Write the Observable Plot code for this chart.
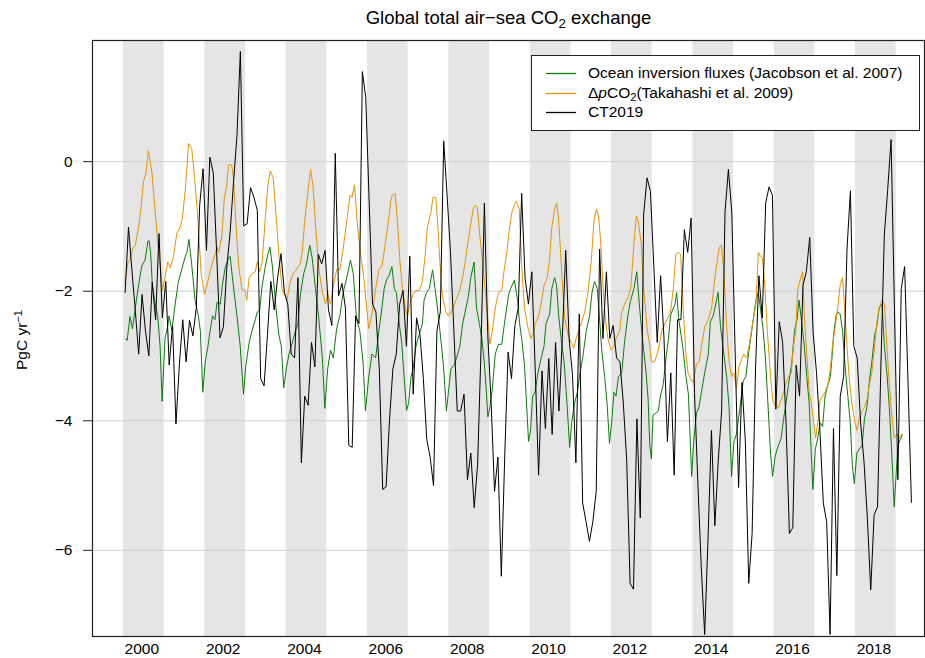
<!DOCTYPE html>
<html><head><meta charset="utf-8">
<script src="https://cdn.jsdelivr.net/npm/d3@7"></script>
<script src="https://cdn.jsdelivr.net/npm/@observablehq/plot@0.6"></script>
<style>
body{margin:0;background:#fff;font-family:"Liberation Sans",Arial,Helvetica,sans-serif;color:#000;}
#wrap{position:relative;width:925px;height:658px;overflow:hidden;}
#chart{position:absolute;left:0;top:0;}
#title{position:absolute;left:92px;width:833px;top:6px;text-align:center;font-size:18.5px;line-height:24px;white-space:nowrap;}
sub{font-size:0.72em;vertical-align:-0.28em;line-height:0;}
sup{font-size:0.72em;vertical-align:0.45em;line-height:0;}
#ylab{position:absolute;left:22px;top:340px;transform:translate(-50%,-50%) rotate(-90deg);font-size:15.5px;white-space:nowrap;line-height:20px;}
#legend{position:absolute;left:531px;top:55px;width:387px;height:74px;border:1px solid #222;background:#fff;font-size:15.5px;}
.row{position:absolute;left:0;width:100%;height:20px;line-height:20px;}
.sw{position:absolute;left:14px;top:9px;width:30px;height:3px;}
.lt{position:absolute;left:56px;top:0;white-space:nowrap;}
</style>
</head><body>
<div id="wrap">
  <div id="chart"></div>
  <div id="title">Global total air&#8722;sea CO<sub>2</sub> exchange</div>
  <div id="ylab">PgC yr<sup>&#8722;1</sup></div>
  <div id="legend"></div>
</div>
<script>
// Grey bands (each starts a year) and axis ticks
const bandYears = [2000, 2002, 2004, 2006, 2008, 2010, 2012, 2014, 2016, 2018];
const xTickYears = [2000, 2002, 2004, 2006, 2008, 2010, 2012, 2014, 2016, 2018];
const yTicks = [0, -2, -4, -6];

// Ocean inversion fluxes (Jacobson et al. 2007): [decimal year, PgC/yr]
const oceanInversion = [[2000.06,-2.73],[2000.09,-2.76],[2000.16,-2.39],[2000.22,-2.58],[2000.29,-2.26],[2000.37,-1.91],[2000.45,-1.61],[2000.53,-1.52],[2000.60,-1.23],[2000.63,-1.22],[2000.67,-1.43],[2000.71,-1.91],[2000.78,-2.20],[2000.84,-2.38],[2000.90,-2.85],[2000.95,-3.70],[2001.02,-2.73],[2001.09,-2.53],[2001.12,-2.38],[2001.19,-2.61],[2001.27,-2.20],[2001.35,-1.85],[2001.43,-1.67],[2001.52,-1.46],[2001.56,-1.40],[2001.61,-1.20],[2001.68,-1.61],[2001.76,-2.14],[2001.84,-2.38],[2001.89,-2.61],[2001.95,-3.56],[2002.01,-3.09],[2002.07,-2.88],[2002.13,-2.61],[2002.19,-2.38],[2002.25,-2.44],[2002.30,-2.17],[2002.38,-2.20],[2002.43,-1.91],[2002.50,-1.64],[2002.58,-1.49],[2002.62,-1.46],[2002.70,-1.91],[2002.79,-2.38],[2002.87,-2.85],[2002.95,-3.59],[2003.01,-3.14],[2003.09,-2.79],[2003.16,-2.61],[2003.24,-2.44],[2003.29,-2.32],[2003.35,-2.29],[2003.41,-1.91],[2003.49,-1.61],[2003.55,-1.43],[2003.60,-1.32],[2003.66,-1.61],[2003.74,-2.20],[2003.82,-2.67],[2003.88,-2.85],[2003.94,-3.49],[2004.01,-3.17],[2004.07,-2.97],[2004.15,-2.79],[2004.23,-2.61],[2004.29,-2.50],[2004.35,-2.05],[2004.43,-1.73],[2004.50,-1.58],[2004.58,-1.29],[2004.64,-1.49],[2004.72,-1.96],[2004.80,-2.41],[2004.89,-3.03],[2004.95,-3.81],[2005.02,-3.20],[2005.09,-2.91],[2005.16,-3.03],[2005.24,-2.58],[2005.32,-2.38],[2005.40,-2.02],[2005.48,-1.82],[2005.58,-1.52],[2005.65,-1.73],[2005.73,-2.44],[2005.81,-2.61],[2005.89,-3.09],[2005.95,-3.85],[2006.03,-3.32],[2006.11,-2.97],[2006.20,-3.03],[2006.28,-2.61],[2006.36,-2.23],[2006.41,-1.96],[2006.47,-1.82],[2006.53,-1.76],[2006.60,-1.62],[2006.66,-1.96],[2006.71,-2.02],[2006.78,-2.50],[2006.84,-2.79],[2006.90,-3.32],[2006.96,-3.84],[2007.01,-3.73],[2007.07,-3.32],[2007.12,-3.20],[2007.19,-2.85],[2007.27,-2.67],[2007.35,-2.50],[2007.39,-2.14],[2007.45,-2.02],[2007.52,-1.96],[2007.60,-1.67],[2007.66,-1.96],[2007.72,-2.26],[2007.78,-2.61],[2007.84,-2.97],[2007.88,-3.26],[2007.94,-3.85],[2007.99,-3.56],[2008.05,-3.20],[2008.13,-3.14],[2008.19,-3.03],[2008.27,-2.85],[2008.34,-2.50],[2008.42,-2.26],[2008.48,-2.08],[2008.54,-1.79],[2008.58,-1.67],[2008.62,-1.55],[2008.68,-2.26],[2008.75,-2.50],[2008.81,-2.73],[2008.87,-3.09],[2008.91,-3.44],[2008.96,-3.94],[2009.01,-3.79],[2009.07,-3.50],[2009.14,-2.97],[2009.22,-2.82],[2009.30,-2.82],[2009.38,-2.44],[2009.47,-2.05],[2009.52,-1.96],[2009.61,-1.83],[2009.69,-2.14],[2009.74,-2.50],[2009.79,-2.73],[2009.86,-3.14],[2009.93,-3.97],[2009.96,-4.32],[2010.01,-4.15],[2010.06,-3.62],[2010.12,-3.56],[2010.19,-3.26],[2010.27,-3.03],[2010.34,-2.85],[2010.39,-2.50],[2010.48,-2.35],[2010.53,-1.96],[2010.60,-1.79],[2010.65,-1.91],[2010.70,-2.38],[2010.76,-2.73],[2010.84,-3.14],[2010.91,-3.79],[2010.97,-4.41],[2011.02,-4.03],[2011.09,-3.73],[2011.16,-3.56],[2011.21,-3.32],[2011.29,-3.03],[2011.38,-2.61],[2011.46,-2.38],[2011.52,-2.02],[2011.58,-1.85],[2011.65,-1.96],[2011.70,-2.38],[2011.76,-2.91],[2011.83,-3.32],[2011.89,-3.73],[2011.95,-4.35],[2012.01,-3.97],[2012.06,-3.56],[2012.11,-3.62],[2012.17,-3.32],[2012.25,-3.26],[2012.32,-2.79],[2012.40,-2.38],[2012.47,-2.14],[2012.55,-1.96],[2012.62,-1.70],[2012.69,-2.26],[2012.77,-2.79],[2012.85,-3.26],[2012.90,-3.68],[2012.94,-4.38],[2012.98,-4.59],[2013.02,-3.91],[2013.09,-3.88],[2013.15,-3.85],[2013.20,-3.62],[2013.27,-3.44],[2013.34,-3.03],[2013.40,-2.73],[2013.45,-2.38],[2013.50,-2.29],[2013.56,-2.20],[2013.60,-2.02],[2013.66,-2.47],[2013.75,-2.85],[2013.83,-3.32],[2013.89,-3.59],[2013.97,-4.86],[2014.02,-4.32],[2014.09,-3.88],[2014.15,-3.79],[2014.21,-3.56],[2014.29,-3.26],[2014.38,-2.97],[2014.43,-2.47],[2014.50,-2.38],[2014.58,-2.14],[2014.62,-2.02],[2014.68,-2.55],[2014.75,-2.91],[2014.83,-3.32],[2014.89,-3.79],[2014.95,-4.86],[2015.01,-4.32],[2015.07,-4.21],[2015.16,-3.79],[2015.24,-3.38],[2015.30,-3.32],[2015.38,-2.91],[2015.47,-2.50],[2015.55,-2.14],[2015.61,-2.02],[2015.66,-2.26],[2015.73,-2.61],[2015.79,-3.09],[2015.85,-3.79],[2015.91,-4.50],[2015.96,-4.86],[2016.02,-4.56],[2016.07,-4.44],[2016.17,-4.27],[2016.23,-3.97],[2016.29,-3.73],[2016.35,-3.44],[2016.43,-3.12],[2016.50,-2.61],[2016.56,-2.44],[2016.61,-2.14],[2016.68,-2.50],[2016.74,-2.85],[2016.80,-3.32],[2016.86,-3.73],[2016.91,-4.50],[2016.95,-5.06],[2017.01,-4.44],[2017.07,-4.27],[2017.13,-4.03],[2017.19,-4.09],[2017.25,-3.62],[2017.32,-3.44],[2017.38,-3.32],[2017.42,-3.03],[2017.46,-2.67],[2017.52,-2.38],[2017.56,-2.32],[2017.62,-2.35],[2017.68,-2.61],[2017.74,-3.14],[2017.81,-3.62],[2017.87,-4.03],[2017.92,-4.68],[2017.97,-4.97],[2018.03,-4.50],[2018.09,-4.44],[2018.16,-4.38],[2018.22,-3.97],[2018.28,-3.79],[2018.34,-3.38],[2018.40,-3.09],[2018.47,-2.67],[2018.52,-2.55],[2018.58,-2.26],[2018.65,-2.20],[2018.71,-2.85],[2018.77,-3.26],[2018.83,-3.79],[2018.89,-4.50],[2018.95,-5.33],[2018.99,-4.91],[2019.04,-4.38],[2019.10,-4.29],[2019.15,-4.21]];

// ΔpCO2 (Takahashi et al. 2009): [decimal year, PgC/yr]
const deltaPCO2 = [[2000.04,-1.85],[2000.11,-1.55],[2000.16,-1.52],[2000.22,-1.35],[2000.29,-1.29],[2000.37,-1.02],[2000.43,-0.73],[2000.49,-0.31],[2000.55,-0.19],[2000.61,0.17],[2000.70,-0.17],[2000.78,-0.78],[2000.86,-1.37],[2000.93,-1.79],[2000.96,-1.99],[2001.02,-1.79],[2001.09,-1.55],[2001.15,-1.64],[2001.23,-1.46],[2001.31,-1.11],[2001.39,-1.02],[2001.45,-0.87],[2001.52,-0.43],[2001.60,0.28],[2001.68,0.19],[2001.75,-0.25],[2001.83,-0.90],[2001.91,-1.73],[2001.99,-2.05],[2002.05,-1.91],[2002.13,-1.70],[2002.21,-1.52],[2002.30,-1.32],[2002.34,-1.40],[2002.42,-1.14],[2002.48,-0.55],[2002.54,-0.37],[2002.58,-0.05],[2002.66,-0.05],[2002.70,-0.22],[2002.76,-0.90],[2002.83,-1.61],[2002.91,-1.96],[2002.99,-1.99],[2003.03,-2.14],[2003.09,-1.79],[2003.16,-1.73],[2003.24,-1.70],[2003.29,-1.55],[2003.35,-1.70],[2003.41,-1.55],[2003.49,-0.84],[2003.55,-0.37],[2003.61,-0.14],[2003.68,-0.25],[2003.74,-0.73],[2003.82,-1.43],[2003.90,-1.96],[2004.02,-2.14],[2004.09,-1.88],[2004.17,-1.73],[2004.25,-1.67],[2004.34,-1.58],[2004.39,-1.43],[2004.45,-0.96],[2004.53,-0.49],[2004.60,-0.12],[2004.66,-0.37],[2004.72,-0.96],[2004.80,-1.64],[2004.89,-2.02],[2004.97,-2.20],[2005.02,-2.02],[2005.09,-2.20],[2005.16,-1.91],[2005.24,-1.67],[2005.32,-1.67],[2005.40,-1.35],[2005.48,-0.96],[2005.57,-0.52],[2005.62,-0.55],[2005.68,-0.36],[2005.75,-0.96],[2005.83,-1.43],[2005.91,-1.79],[2005.98,-2.26],[2006.03,-2.58],[2006.12,-2.32],[2006.20,-1.96],[2006.28,-1.67],[2006.36,-1.60],[2006.44,-1.25],[2006.52,-0.90],[2006.57,-0.61],[2006.61,-0.52],[2006.68,-0.49],[2006.74,-0.96],[2006.79,-1.49],[2006.86,-1.96],[2006.93,-2.26],[2006.98,-2.38],[2007.04,-2.20],[2007.12,-2.05],[2007.19,-1.99],[2007.27,-1.99],[2007.35,-1.85],[2007.42,-1.43],[2007.47,-1.02],[2007.56,-0.78],[2007.61,-0.55],[2007.68,-0.55],[2007.72,-0.90],[2007.78,-1.55],[2007.84,-2.08],[2007.93,-2.32],[2007.99,-2.38],[2008.05,-2.32],[2008.11,-2.26],[2008.17,-2.14],[2008.25,-2.02],[2008.34,-1.79],[2008.40,-1.55],[2008.48,-1.20],[2008.54,-0.96],[2008.60,-0.73],[2008.65,-0.67],[2008.70,-0.70],[2008.76,-1.14],[2008.83,-1.55],[2008.89,-1.96],[2008.95,-2.38],[2009.01,-2.82],[2009.07,-2.61],[2009.14,-2.26],[2009.22,-2.02],[2009.30,-1.99],[2009.36,-1.67],[2009.42,-1.43],[2009.48,-1.08],[2009.55,-0.78],[2009.61,-0.67],[2009.66,-0.61],[2009.73,-0.73],[2009.79,-1.60],[2009.86,-2.26],[2009.94,-2.55],[2010.01,-2.73],[2010.07,-2.67],[2010.12,-2.50],[2010.19,-2.41],[2010.25,-2.26],[2010.34,-1.91],[2010.42,-1.79],[2010.48,-1.49],[2010.53,-1.02],[2010.60,-0.73],[2010.65,-0.64],[2010.70,-0.90],[2010.76,-1.55],[2010.84,-2.38],[2010.93,-2.67],[2011.01,-2.79],[2011.07,-2.88],[2011.13,-2.73],[2011.19,-2.61],[2011.25,-2.50],[2011.34,-2.32],[2011.42,-2.02],[2011.50,-1.55],[2011.57,-0.90],[2011.63,-0.73],[2011.68,-0.84],[2011.73,-1.20],[2011.79,-1.91],[2011.84,-2.38],[2011.91,-2.73],[2011.99,-2.91],[2012.06,-2.85],[2012.11,-2.73],[2012.20,-2.61],[2012.25,-2.32],[2012.34,-2.17],[2012.42,-2.08],[2012.48,-1.91],[2012.55,-1.26],[2012.61,-0.84],[2012.66,-0.93],[2012.73,-1.26],[2012.79,-1.96],[2012.88,-2.61],[2012.93,-2.79],[2012.98,-3.09],[2013.06,-3.09],[2013.15,-2.91],[2013.23,-2.61],[2013.31,-2.50],[2013.39,-2.41],[2013.45,-2.32],[2013.52,-1.96],[2013.58,-1.43],[2013.64,-1.40],[2013.70,-1.43],[2013.76,-2.26],[2013.83,-2.97],[2013.88,-3.26],[2013.94,-3.35],[2014.01,-3.41],[2014.09,-3.12],[2014.16,-3.09],[2014.21,-2.85],[2014.29,-2.55],[2014.38,-2.44],[2014.46,-2.26],[2014.52,-1.91],[2014.58,-1.61],[2014.65,-1.32],[2014.70,-1.29],[2014.76,-1.67],[2014.83,-2.55],[2014.89,-3.09],[2014.95,-3.32],[2015.01,-3.26],[2015.07,-3.50],[2015.14,-3.14],[2015.20,-3.05],[2015.25,-2.97],[2015.32,-3.03],[2015.38,-2.85],[2015.47,-2.50],[2015.55,-2.20],[2015.61,-1.40],[2015.66,-1.46],[2015.71,-1.49],[2015.77,-1.91],[2015.83,-2.61],[2015.89,-3.14],[2015.96,-3.68],[2016.02,-3.76],[2016.10,-3.80],[2016.17,-3.68],[2016.23,-3.56],[2016.29,-3.41],[2016.35,-3.32],[2016.42,-3.26],[2016.47,-2.85],[2016.53,-2.61],[2016.58,-1.96],[2016.64,-1.82],[2016.70,-1.70],[2016.74,-2.38],[2016.80,-2.97],[2016.86,-3.56],[2016.91,-3.73],[2016.97,-4.03],[2017.02,-4.27],[2017.07,-4.03],[2017.13,-3.68],[2017.19,-3.62],[2017.25,-3.56],[2017.32,-3.44],[2017.38,-3.20],[2017.43,-2.85],[2017.50,-2.55],[2017.56,-2.26],[2017.62,-1.91],[2017.68,-1.79],[2017.73,-2.26],[2017.79,-2.85],[2017.84,-3.32],[2017.91,-3.73],[2017.97,-3.97],[2018.03,-4.15],[2018.09,-3.97],[2018.16,-3.85],[2018.22,-3.79],[2018.28,-3.68],[2018.34,-3.44],[2018.40,-3.26],[2018.47,-2.85],[2018.52,-2.50],[2018.58,-2.26],[2018.65,-2.14],[2018.71,-2.20],[2018.77,-2.85],[2018.83,-3.44],[2018.89,-3.91],[2018.95,-4.27],[2019.02,-4.21],[2019.07,-4.27],[2019.14,-4.21]];

// CT2019 monthly values (PgC/yr), first month at ct2019Start
const ct2019Start = 2000.04;
const ct2019 = [-2.02,-1.01,-1.67,-2.30,-2.97,-2.05,-2.61,-3.00,-1.86,-2.44,-1.11,-2.41,
-1.85,-3.14,-2.53,-4.05,-3.14,-2.44,-3.09,-2.45,-2.69,-2.26,-0.67,-0.11,
-1.37,0.07,-0.17,-1.40,-2.72,-2.55,-1.64,-1.08,-0.31,0.40,1.70,-0.99,
-0.96,-0.40,-0.55,-0.75,-3.35,-3.46,-2.67,-1.85,-2.29,-1.79,-1.42,-2.02,
-2.20,-2.97,-3.03,-1.79,-4.65,-3.62,-3.76,-2.79,-3.17,-1.43,-1.58,-1.37,
-2.29,-2.53,0.13,-2.07,-1.88,-2.26,-4.38,-4.41,-2.38,-2.50,1.39,0.99,
-0.61,-2.20,-2.32,-3.20,-5.06,-5.02,-4.00,-3.20,-2.97,-2.20,-1.99,-2.85,
-1.46,-3.59,-2.41,-2.67,-3.35,-4.29,-4.56,-5.00,-2.61,-2.32,0.32,-0.52,
-1.40,-2.61,-3.85,-3.85,-3.59,-4.91,-4.50,-5.34,-4.68,-2.91,-0.64,-2.67,
-3.73,-5.09,-4.56,-6.40,-4.56,-2.94,-3.35,-2.53,-2.26,-0.49,-1.79,-2.20,
-1.70,-3.20,-4.84,-3.23,-4.12,-3.04,-4.21,-2.79,-3.85,-2.73,-1.37,-2.73,
-3.29,-4.65,-2.35,-5.27,-5.56,-5.86,-5.56,-5.09,-1.35,-2.73,-1.70,-2.73,
-2.53,-3.03,-3.09,-3.73,-4.62,-6.51,-6.60,-3.97,-5.50,-0.81,-0.25,-0.46,
-1.62,-2.79,-1.76,-2.73,-4.32,-3.26,-4.84,-2.44,-2.44,-1.05,-1.40,-0.87,
-3.56,-4.97,-6.27,-7.30,-5.80,-4.15,-5.62,-4.62,-3.85,-0.78,-0.12,-0.78,
-2.97,-5.03,-3.41,-4.32,-6.51,-5.74,-3.20,-1.76,-2.41,-0.64,-0.39,-0.52,
-3.82,-2.47,-2.79,-4.03,-5.74,-5.65,-3.14,-3.62,-1.91,-1.70,-1.17,-2.64,
-3.26,-4.15,-5.27,-5.56,-7.30,-4.12,-6.39,-3.62,-3.32,-1.35,-0.45,-2.85,
-3.03,-4.03,-4.62,-5.50,-6.61,-5.45,-5.33,-3.14,-1.14,-0.43,0.34,-2.29,
-4.91,-1.96,-1.62,-3.40,-5.26];

const seriesNames = ["Ocean inversion fluxes (Jacobson et al. 2007)", "ΔpCO2(Takahashi et al. 2009)", "CT2019"];
const seriesColors = ["#0b7d0b", "#e69500", "#000000"];

const ctData = ct2019.map((v, i) => [ct2019Start + i / 12, v]);
const xDomain = [1999.238, 2019.695];
const yDomain = [-7.33, 1.87];

const chart = Plot.plot({
  width: 925, height: 658,
  marginTop: 40, marginRight: 1, marginBottom: 22, marginLeft: 92,
  style: {fontFamily: "'Liberation Sans', Arial, Helvetica, sans-serif", fontSize: "15.5px", background: "transparent", color: "#000", overflow: "visible"},
  x: {domain: xDomain},
  y: {domain: yDomain},
  marks: [
    Plot.rect(bandYears, {x1: d => d, x2: d => d + 1, y1: yDomain[0], y2: yDomain[1], fill: "#e5e5e5"}),
    Plot.ruleY(yTicks, {stroke: "#d0d0d0", strokeWidth: 1}),
    Plot.line(oceanInversion, {x: d => d[0], y: d => d[1], stroke: seriesColors[0], strokeWidth: 1}),
    Plot.line(deltaPCO2, {x: d => d[0], y: d => d[1], stroke: seriesColors[1], strokeWidth: 1}),
    Plot.line(ctData, {x: d => d[0], y: d => d[1], stroke: seriesColors[2], strokeWidth: 1}),
    Plot.axisY({ticks: yTicks, tickSize: 9, tickPadding: 11, label: null, fontSize: 15.5, stroke: "#222"}),
    Plot.axisX({ticks: xTickYears.map(y => y + 0.45), tickFormat: d => String(Math.round(d - 0.45)), tickSize: 0, tickPadding: 6, label: null, fontSize: 15.5}),
    Plot.frame({stroke: "#222", strokeWidth: 1.2})
  ]
});
document.getElementById("chart").appendChild(chart);

// Legend (HTML overlay, inside plot area)
const legend = document.getElementById("legend");
const rowTops = [7, 26.5, 46];
const labelsHtml = [
  seriesNames[0],
  "Δ<i>p</i>CO<sub>2</sub>(Takahashi et al. 2009)",
  seriesNames[2]
];
labelsHtml.forEach((html, i) => {
  const row = document.createElement("div");
  row.className = "row";
  row.style.top = rowTops[i] + "px";
  const sw = document.createElementNS("http://www.w3.org/2000/svg", "svg");
  sw.setAttribute("class", "sw");
  sw.setAttribute("width", "30");
  sw.setAttribute("height", "3");
  const ln = document.createElementNS("http://www.w3.org/2000/svg", "line");
  ln.setAttribute("x1", "0"); ln.setAttribute("x2", "30");
  ln.setAttribute("y1", "1.5"); ln.setAttribute("y2", "1.5");
  ln.setAttribute("stroke", seriesColors[i]);
  ln.setAttribute("stroke-width", "1.3");
  sw.appendChild(ln);
  const lt = document.createElement("div");
  lt.className = "lt";
  lt.innerHTML = html;
  row.appendChild(sw);
  row.appendChild(lt);
  legend.appendChild(row);
});
</script>
</body></html>
